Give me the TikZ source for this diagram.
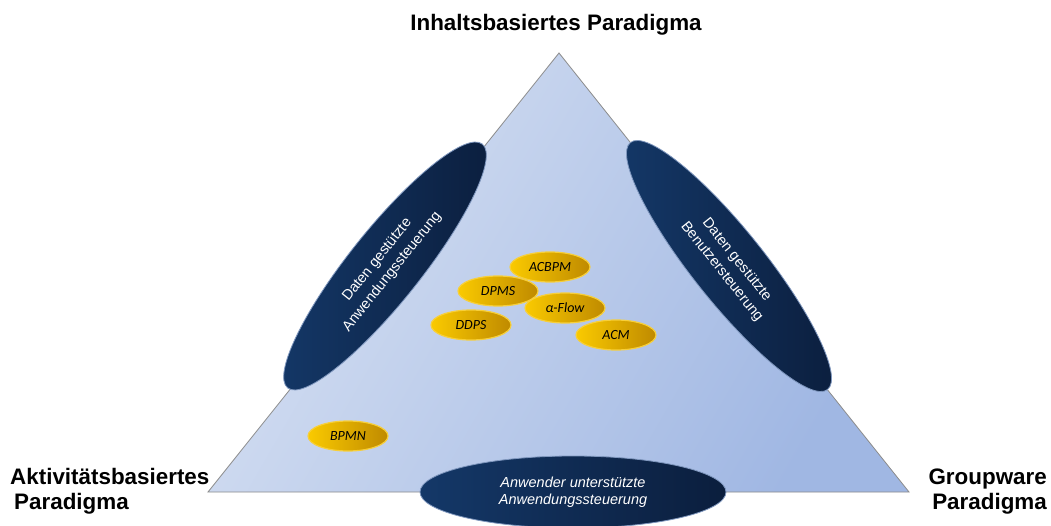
\documentclass[tikz,border=0pt]{standalone}
\usepackage{fontspec}
\setmainfont{Liberation Sans}
\newfontfamily\goldfont{Carlito}
\usetikzlibrary{shapes.geometric}
\definecolor{triL}{HTML}{D6E0F2}
\definecolor{triR}{HTML}{A0B7E3}
\definecolor{triEdge}{HTML}{8C8C8C}
\definecolor{navyL}{HTML}{143868}
\definecolor{navyR}{HTML}{0B1E3D}
\definecolor{navyEdge}{HTML}{7F97BE}
\definecolor{goldL}{HTML}{FACA00}
\definecolor{goldR}{HTML}{BF8A00}
\definecolor{goldEdge}{HTML}{F7CF3A}
\tikzset{
  paradigm/.style={font=\bfseries\fontsize{22.4}{25}\selectfont, inner sep=0pt},
  steering/.style={ellipse, inner sep=0pt, left color=navyL, right color=navyR,
    draw=navyEdge, line width=0.8pt, text=white, align=center,
    font=\fontsize{14.5}{19}\selectfont},
  system/.style={ellipse, minimum width=80pt, minimum height=30pt, inner sep=0pt,
    left color=goldL, right color=goldR, draw=goldEdge, line width=1.2pt,
    font=\goldfont\itshape\fontsize{14}{14}\selectfont}
}
\begin{document}
\begin{tikzpicture}[x=1pt,y=-1pt]
\useasboundingbox[fill=white] (0,0) rectangle (1051,526);

% the paradigm triangle
\coordinate (apex) at (559,53);
\coordinate (lcorner) at (208,492);
\coordinate (rcorner) at (909,492);
\shade[left color=triL, right color=triR, shading angle=60]
  (apex) -- (rcorner) -- (lcorner) -- cycle;
\draw[triEdge, line width=0.8pt] (apex) -- (rcorner) -- (lcorner) -- cycle;

% paradigm labels
\node[paradigm, anchor=base] (top) at (556,31) {Inhaltsbasiertes Paradigma};
\node[paradigm, anchor=base west] (left1) at (10,484) {Aktivitätsbasiertes};
\node[paradigm, anchor=base west] (left2) at (14,509) {Paradigma};
\node[paradigm, anchor=base east] (right1) at (1047,484) {Groupware};
\node[paradigm, anchor=base east] (right2) at (1047,509) {Paradigma};

% systems
\node[system] (acbpm) at (550,267) {ACBPM};
\node[system] (dpms)  at (498,291) {DPMS};
\node[system] (aflow) at (565,308) {α-Flow};
\node[system] (ddps)  at (471,325) {DDPS};
\node[system] (acm)   at (616,335) {ACM};
\node[system] (bpmn)  at (348,436) {BPMN};

% steering ellipses on the triangle edges
\node[steering, minimum width=312pt, minimum height=72pt, rotate=51.4]
  (lsteer) at (385,266) {Daten gestützte\\Anwendungssteuerung};
\node[steering, minimum width=316pt, minimum height=72pt, rotate=-51.4]
  (rsteer) at (729,266) {Daten gestützte\\Benutzersteuerung};
\node[steering, minimum width=306pt, minimum height=72pt,
  font=\itshape\fontsize{14.5}{17}\selectfont]
  (bsteer) at (573,492) {Anwender unterstützte\\Anwendungssteuerung};
\end{tikzpicture}
\end{document}
